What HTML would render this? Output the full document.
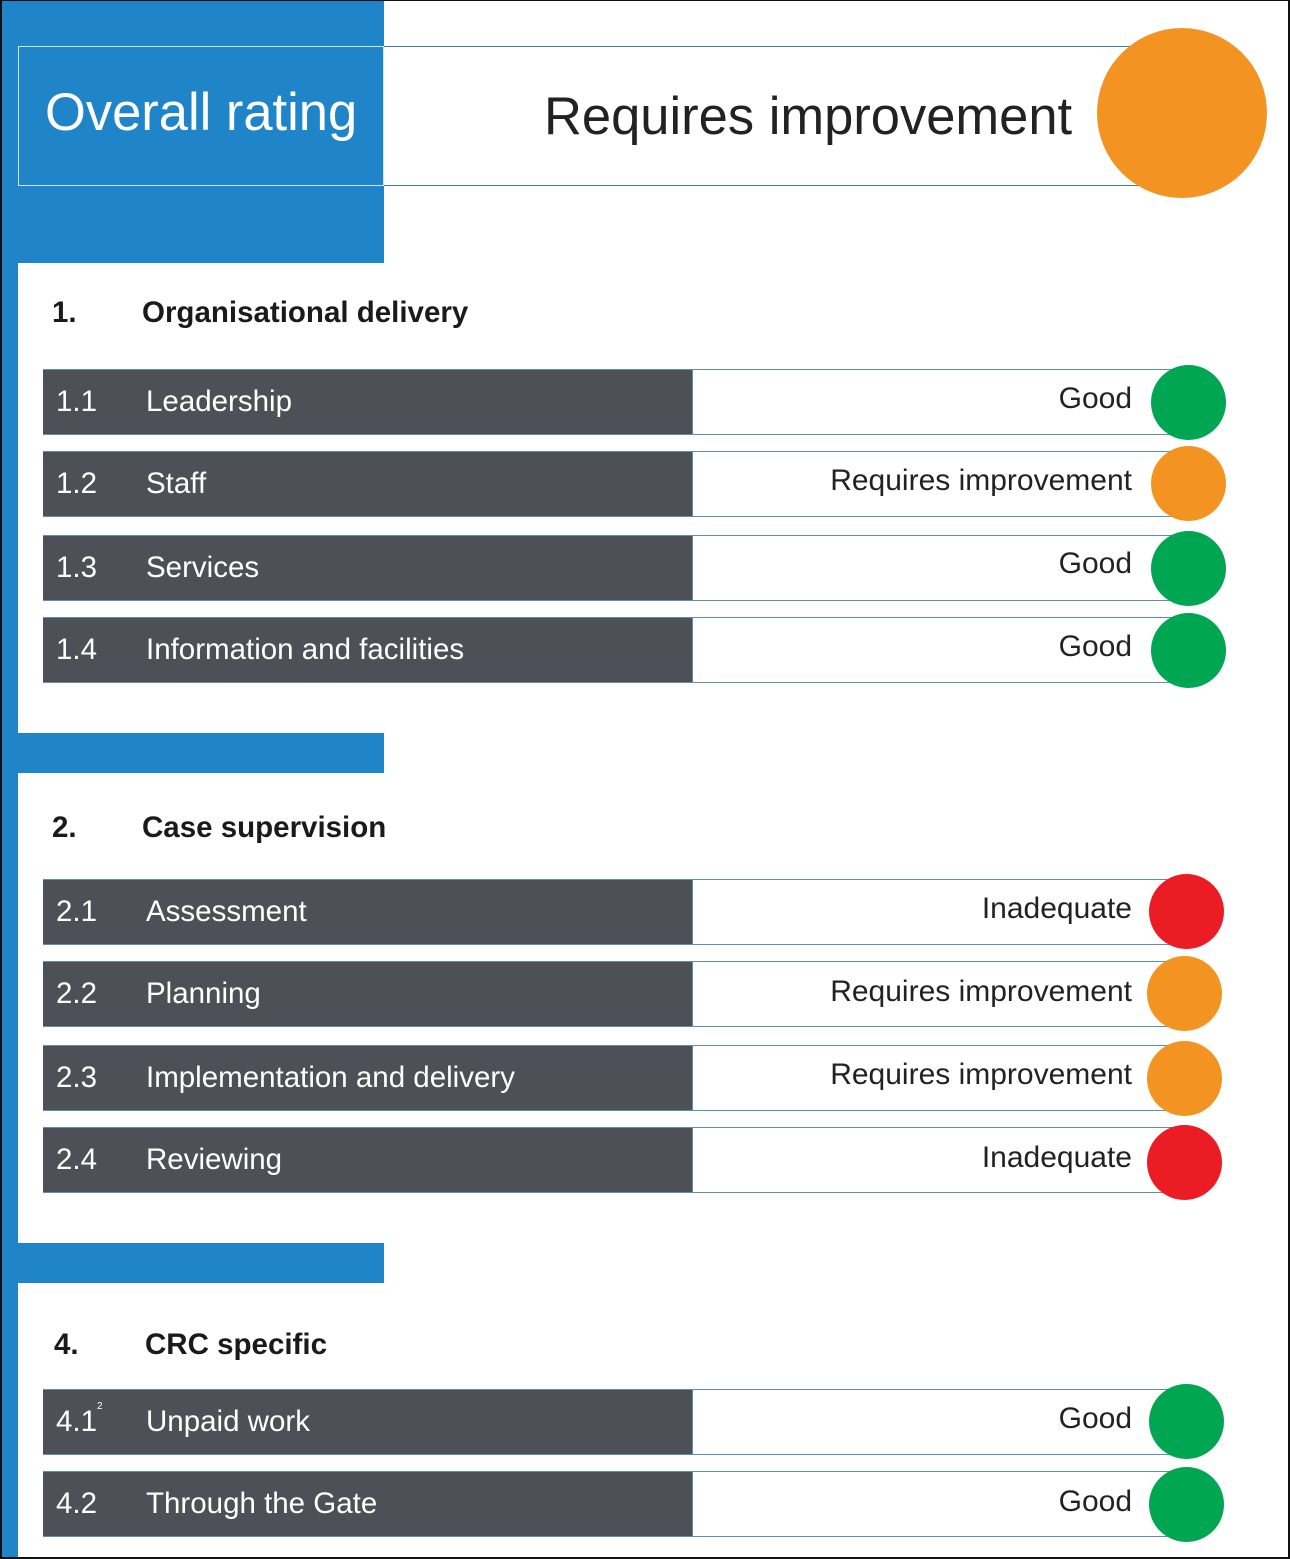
<!DOCTYPE html>
<html><head><meta charset="utf-8"><style>
*{margin:0;padding:0;box-sizing:border-box}
body{width:1290px;height:1559px;position:relative;background:#fff;font-family:"Liberation Sans",Arial,sans-serif;overflow:hidden}
.a{position:absolute}
.blue{background:#1f84c8}
.row{position:absolute;left:43px;width:650px;height:66px;background:#4d5157;border-top:1px solid #5a8fb0;border-bottom:1px solid #5a8fb0;color:#fff;font-size:29.5px}
.row .n{position:absolute;left:13px;top:15px}
.row .t{position:absolute;left:103px;top:15px}
.rb{position:absolute;left:692px;width:490px;height:66px;border-top:1px solid #5a8fb0;border-bottom:1px solid #5a8fb0;border-left:1px solid #5a8fb0}
.rt{position:absolute;right:158px;font-size:30px;color:#222;text-align:right;white-space:nowrap}
.c{position:absolute;width:75px;height:75px;border-radius:50%}
.g{background:#00a652}.o{background:#f39422}.r{background:#ec1c24}
.h{position:absolute;font-weight:bold;font-size:29.5px;color:#1a1a1a}
</style></head><body>
<div class="a" style="left:0;top:0;width:1290px;height:1559px;border:2px solid #111;border-top-width:1px"></div>
<div class="a blue" style="left:2px;top:1px;width:16px;height:1556px"></div>
<div class="a blue" style="left:2px;top:1px;width:382px;height:262px"></div>
<div class="a" style="left:18px;top:46px;width:366px;height:140px;border:1px solid #cfe3f2"></div>
<div class="a" style="left:45px;top:82px;font-size:52.5px;color:#fff">Overall rating</div>
<div class="a" style="left:384px;top:46px;width:800px;height:140px;border-top:1px solid #3d7fa8;border-bottom:1px solid #3d7fa8"></div>
<div class="a" style="left:544px;top:86px;font-size:52.5px;color:#222">Requires improvement</div>
<div class="c o" style="left:1097px;top:28px;width:170px;height:170px"></div>

<div class="h" style="left:52px;top:296px">1.</div>
<div class="h" style="left:142px;top:296px">Organisational delivery</div>

<div class="row" style="top:369px"><span class="n">1.1</span><span class="t">Leadership</span></div>
<div class="rb" style="top:369px"></div><div class="rt" style="top:382px">Good</div><div class="c g" style="left:1151px;top:365px"></div>
<div class="row" style="top:451px"><span class="n">1.2</span><span class="t">Staff</span></div>
<div class="rb" style="top:451px"></div><div class="rt" style="top:464px">Requires improvement</div><div class="c o" style="left:1151px;top:446px"></div>
<div class="row" style="top:535px"><span class="n">1.3</span><span class="t">Services</span></div>
<div class="rb" style="top:535px"></div><div class="rt" style="top:547px">Good</div><div class="c g" style="left:1151px;top:531px"></div>
<div class="row" style="top:617px"><span class="n">1.4</span><span class="t">Information and facilities</span></div>
<div class="rb" style="top:617px"></div><div class="rt" style="top:630px">Good</div><div class="c g" style="left:1151px;top:613px"></div>

<div class="a blue" style="left:2px;top:733px;width:382px;height:40px"></div>
<div class="h" style="left:52px;top:811px">2.</div>
<div class="h" style="left:142px;top:811px">Case supervision</div>

<div class="row" style="top:879px"><span class="n">2.1</span><span class="t">Assessment</span></div>
<div class="rb" style="top:879px"></div><div class="rt" style="top:892px">Inadequate</div><div class="c r" style="left:1149px;top:874px"></div>
<div class="row" style="top:961px"><span class="n">2.2</span><span class="t">Planning</span></div>
<div class="rb" style="top:961px"></div><div class="rt" style="top:975px">Requires improvement</div><div class="c o" style="left:1147px;top:956px"></div>
<div class="row" style="top:1045px"><span class="n">2.3</span><span class="t">Implementation and delivery</span></div>
<div class="rb" style="top:1045px"></div><div class="rt" style="top:1058px">Requires improvement</div><div class="c o" style="left:1147px;top:1041px"></div>
<div class="row" style="top:1127px"><span class="n">2.4</span><span class="t">Reviewing</span></div>
<div class="rb" style="top:1127px"></div><div class="rt" style="top:1141px">Inadequate</div><div class="c r" style="left:1147px;top:1125px"></div>

<div class="a blue" style="left:2px;top:1243px;width:382px;height:40px"></div>
<div class="h" style="left:54px;top:1328px">4.</div>
<div class="h" style="left:145px;top:1328px">CRC specific</div>

<div class="row" style="top:1389px"><span class="n">4.1<sup style="font-size:10px;vertical-align:top;position:relative;top:-4px">2</sup></span><span class="t">Unpaid work</span></div>
<div class="rb" style="top:1389px"></div><div class="rt" style="top:1402px">Good</div><div class="c g" style="left:1149px;top:1384px"></div>
<div class="row" style="top:1471px"><span class="n">4.2</span><span class="t">Through the Gate</span></div>
<div class="rb" style="top:1471px"></div><div class="rt" style="top:1485px">Good</div><div class="c g" style="left:1149px;top:1467px"></div>
</body></html>
